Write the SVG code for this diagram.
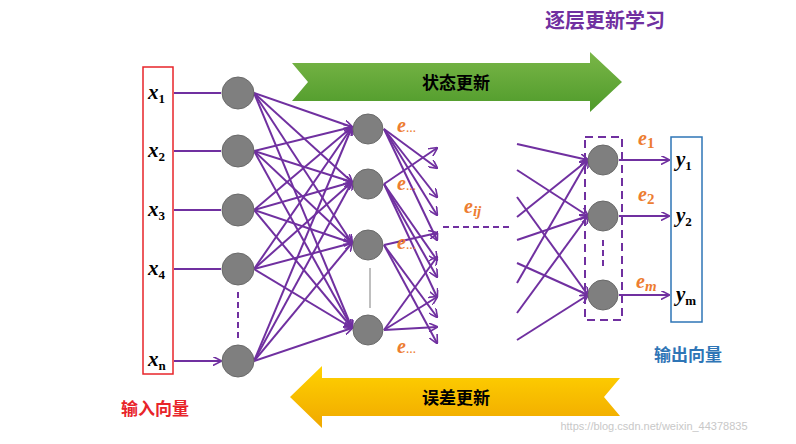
<svg xmlns="http://www.w3.org/2000/svg" width="796" height="444" viewBox="0 0 796 444">
<style>
.c{stroke:#7030a0;stroke-width:2;fill:none}
.n{fill:#7f7f7f;stroke:#6a6a6a;stroke-width:1}
.x{font-family:"Liberation Serif",serif;font-style:italic;font-weight:bold;font-size:21px;fill:#000}
.s{font-family:"Liberation Serif",serif;font-size:13px;font-style:normal;font-weight:bold}
.e{font-family:"Liberation Serif",serif;font-style:italic;font-weight:bold;font-size:20px;fill:#ed7d31}
.cn{font-family:"Noto Sans CJK SC",sans-serif;font-weight:bold}
</style>
<defs>
<marker id="a" viewBox="0 0 10 10" refX="9" refY="5" markerWidth="9" markerHeight="9" orient="auto" markerUnits="userSpaceOnUse"><path d="M0,0 L10,5 L0,10" fill="none" stroke="#7030a0" stroke-width="1.8"/></marker>
<linearGradient id="g" x1="0" y1="0" x2="0" y2="1"><stop offset="0" stop-color="#7ab648"/><stop offset="1" stop-color="#4e9a2a"/></linearGradient>
<linearGradient id="y" x1="0" y1="0" x2="0" y2="1"><stop offset="0" stop-color="#ffd200"/><stop offset="1" stop-color="#f0a800"/></linearGradient>
</defs>
<text x="605" y="28" text-anchor="middle" class="cn" font-size="20" fill="#7030a0">逐层更新学习</text>
<g id="state-arrow"><path d="M292,63 L590,63 L590,52 L622,82 L590,112 L590,101 L292,101 L308,82 Z" fill="url(#g)"/><text x="456" y="89" text-anchor="middle" class="cn" font-size="17" fill="#000">状态更新</text></g>
<g id="error-arrow"><path d="M620,378 L322,378 L322,366 L290,397 L322,428 L322,416 L620,416 L604,397 Z" fill="url(#y)"/><text x="456" y="404" text-anchor="middle" class="cn" font-size="17" fill="#000">误差更新</text></g>
<g id="input"><rect x="143" y="67" width="30" height="307" fill="none" stroke="#e8242a" stroke-width="1.5"/>
<text x="148" y="99" class="x">x<tspan class="s" dy="4">1</tspan></text>
<text x="148" y="157" class="x">x<tspan class="s" dy="4">2</tspan></text>
<text x="148" y="216" class="x">x<tspan class="s" dy="4">3</tspan></text>
<text x="148" y="275" class="x">x<tspan class="s" dy="4">4</tspan></text>
<text x="148" y="366" class="x">x<tspan class="s" dy="4">n</tspan></text>
<text x="155" y="415" text-anchor="middle" class="cn" font-size="17" fill="#e8242a">输入向量</text></g>
<g id="output"><rect x="671" y="137" width="31" height="185" fill="none" stroke="#2e75b6" stroke-width="1.5"/>
<text x="676" y="166" class="x">y<tspan class="s" dy="4">1</tspan></text>
<text x="676" y="222" class="x">y<tspan class="s" dy="4">2</tspan></text>
<text x="676" y="301" class="x">y<tspan class="s" dy="4">m</tspan></text>
<text x="688" y="361" text-anchor="middle" class="cn" font-size="17" fill="#2e75b6">输出向量</text></g>
<g id="connectors">
<path class="c" marker-end="url(#a)" d="M174,93H221M174,151H221M174,210H221M174,269H221M174,361H221"/>
<g marker-end="url(#a)" class="c">
<line x1="254" y1="93" x2="352" y2="127"/><line x1="254" y1="93" x2="352" y2="182"/><line x1="254" y1="93" x2="352" y2="243"/><line x1="254" y1="93" x2="352" y2="328"/>
<line x1="254" y1="151" x2="352" y2="127"/><line x1="254" y1="151" x2="352" y2="182"/><line x1="254" y1="151" x2="352" y2="243"/><line x1="254" y1="151" x2="352" y2="328"/>
<line x1="254" y1="210" x2="352" y2="127"/><line x1="254" y1="210" x2="352" y2="182"/><line x1="254" y1="210" x2="352" y2="243"/><line x1="254" y1="210" x2="352" y2="328"/>
<line x1="254" y1="269" x2="352" y2="127"/><line x1="254" y1="269" x2="352" y2="182"/><line x1="254" y1="269" x2="352" y2="243"/><line x1="254" y1="269" x2="352" y2="328"/>
<line x1="254" y1="361" x2="352" y2="127"/><line x1="254" y1="361" x2="352" y2="182"/><line x1="254" y1="361" x2="352" y2="243"/><line x1="254" y1="361" x2="352" y2="328"/>
<line x1="384" y1="129" x2="437" y2="168"/><line x1="384" y1="129" x2="437" y2="197"/><line x1="384" y1="129" x2="437" y2="215"/><line x1="384" y1="129" x2="437" y2="240"/>
<line x1="384" y1="184" x2="437" y2="148"/><line x1="384" y1="184" x2="437" y2="260"/><line x1="384" y1="184" x2="437" y2="277"/><line x1="384" y1="184" x2="437" y2="297"/>
<line x1="384" y1="245" x2="437" y2="233"/><line x1="384" y1="245" x2="437" y2="317"/><line x1="384" y1="245" x2="437" y2="343"/>
<line x1="384" y1="330" x2="437" y2="257"/><line x1="384" y1="330" x2="437" y2="297"/><line x1="384" y1="330" x2="437" y2="327"/>
<line x1="517" y1="144" x2="588" y2="160"/><line x1="517" y1="170" x2="588" y2="216"/><line x1="517" y1="197" x2="588" y2="295"/>
<line x1="517" y1="217" x2="588" y2="160"/><line x1="517" y1="240" x2="588" y2="216"/><line x1="517" y1="263" x2="588" y2="295"/>
<line x1="517" y1="283" x2="588" y2="160"/><line x1="517" y1="313" x2="588" y2="216"/><line x1="517" y1="340" x2="588" y2="295"/>
<line x1="619" y1="160" x2="669" y2="160"/><line x1="619" y1="216" x2="669" y2="216"/><line x1="619" y1="295" x2="669" y2="295"/>
</g>
<path d="M238,292V340M603,240V270M443,227H510" class="c" stroke-dasharray="6,4"/>
<path d="M370,268V308" stroke="#aaa" stroke-width="1.5"/>
<rect x="585" y="137" width="37" height="183" class="c" stroke-dasharray="8,5" stroke-width="2.5"/>
</g>
<g id="nodes">
<circle class="n" cx="238" cy="93" r="16"/><circle class="n" cx="238" cy="151" r="16"/><circle class="n" cx="238" cy="210" r="16"/><circle class="n" cx="238" cy="269" r="16"/><circle class="n" cx="238" cy="361" r="16"/>
<circle class="n" cx="368" cy="129" r="15"/><circle class="n" cx="368" cy="184" r="15"/><circle class="n" cx="368" cy="245" r="15"/><circle class="n" cx="368" cy="330" r="15"/>
<circle class="n" cx="603" cy="160" r="15"/><circle class="n" cx="603" cy="216" r="15"/><circle class="n" cx="603" cy="295" r="15"/>
</g>
<g id="labels">
<text x="397" y="132" class="e">e<tspan font-size="10" font-style="normal">…</tspan></text>
<text x="397" y="190" class="e">e<tspan font-size="10" font-style="normal">…</tspan></text>
<text x="397" y="249" class="e">e<tspan font-size="10" font-style="normal">…</tspan></text>
<text x="397" y="353" class="e">e<tspan font-size="10" font-style="normal">…</tspan></text>
<text x="464" y="213" class="e">e<tspan font-size="15" dy="3">ij</tspan></text>
<text x="638" y="145" class="e">e<tspan font-size="15" dy="3" font-style="normal">1</tspan></text>
<text x="638" y="201" class="e">e<tspan font-size="15" dy="3" font-style="normal">2</tspan></text>
<text x="636" y="288" class="e">e<tspan font-size="15" dy="3">m</tspan></text>
</g>
<text x="654" y="430" text-anchor="middle" font-family="Liberation Sans,sans-serif" font-size="11" fill="#c8c8c8">https://blog.csdn.net/weixin_44378835</text>
</svg>
